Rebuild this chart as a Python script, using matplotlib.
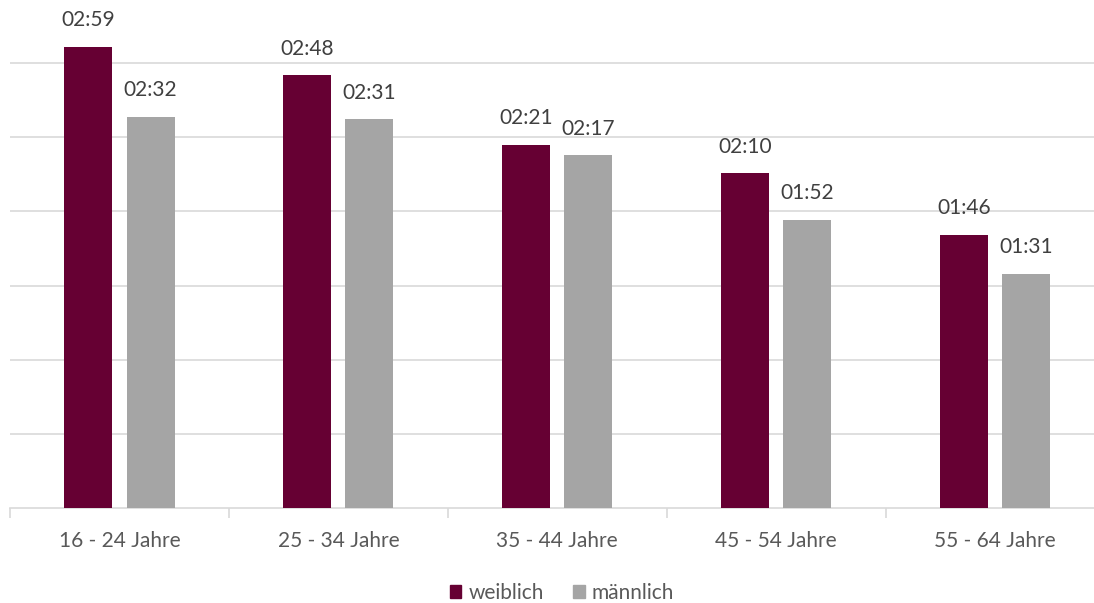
import numpy as np
import matplotlib
matplotlib.use("Agg")
import matplotlib.pyplot as plt
from matplotlib.patches import Patch

plt.rcParams['font.family'] = ['Lato', 'DejaVu Sans']

# Daten (Minuten pro Tag)
kategorien = ["16 - 24 Jahre", "25 - 34 Jahre", "35 - 44 Jahre", "45 - 54 Jahre", "55 - 64 Jahre"]
weiblich = [179, 168, 141, 130, 106]
maennlich = [152, 151, 137, 112, 91]
serien = ["weiblich", "männlich"]

farbe_w = "#660033"
farbe_m = "#a5a5a5"


def als_zeit(minuten):
    return f"{minuten // 60:02d}:{minuten % 60:02d}"


fig = plt.figure(figsize=(10.94, 6.03), dpi=100)
# Achse läuft rechts über den Bildrand hinaus (wie im Original)
ax = fig.add_axes([10 / 1094, 94.7 / 603, 1094.5 / 1094, 508.3 / 603])

x = np.arange(len(kategorien))
breite = 0.219
versatz = 0.142

b1 = ax.bar(x - versatz, weiblich, breite, color=farbe_w, zorder=3)
b2 = ax.bar(x + versatz, maennlich, breite, color=farbe_m, zorder=3)

for balken, werte in [(b1, weiblich), (b2, maennlich)]:
    for b, w in zip(balken, werte):
        ax.annotate(als_zeit(w), (b.get_x() + b.get_width() / 2, b.get_height()),
                    xytext=(0, 12), textcoords="offset points", ha="center", va="bottom",
                    fontsize=15, color="#404040", annotation_clip=False)

# Gitter alle 0,02 Tage = 28,8 Minuten
ax.set_yticks(np.arange(28.8, 190, 28.8))
ax.yaxis.grid(True, color="#d9d9d9", linewidth=1.2, zorder=0)
ax.tick_params(axis="y", left=False, labelleft=False)
ax.set_ylim(0, 508.3 / 2.577)
ax.set_xlim(-0.5, len(kategorien) - 0.5)

ax.set_xticks(x)
ax.set_xticklabels(kategorien, fontsize=15, color="#595959")
ax.tick_params(axis="x", which="major", length=0, pad=16)
ax.set_xticks(np.arange(-0.5, len(kategorien)), minor=True)
ax.tick_params(axis="x", which="minor", length=7, color="#d9d9d9", width=1.2)

for s in ["top", "right", "left"]:
    ax.spines[s].set_visible(False)
ax.spines["bottom"].set_color("#d9d9d9")
ax.spines["bottom"].set_linewidth(1.2)

handles = [Patch(color=farbe_w), Patch(color=farbe_m)]
fig.legend(handles, serien, loc="center", bbox_to_anchor=(562 / 1094, 1 - 593 / 603),
           ncol=2, frameon=False, fontsize=15, labelcolor="#595959",
           handlelength=0.55, handleheight=0.55, handletextpad=0.35, columnspacing=1.4)

fig.savefig("out.png", dpi=100)
